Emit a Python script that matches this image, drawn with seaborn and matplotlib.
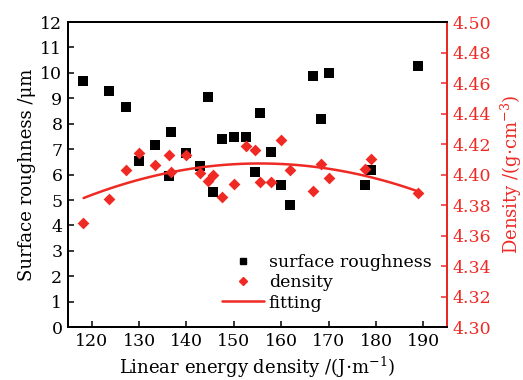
import numpy as np
import pandas as pd
import seaborn as sns
import matplotlib.pyplot as plt
from matplotlib.lines import Line2D

# values
energy = [118.1, 123.7, 127.3, 129.9, 133.3, 136.4, 136.8, 140.0, 142.8, 144.5,
          145.5, 147.4, 150.0, 152.5, 154.5, 155.5, 157.8, 159.9, 161.9, 166.6,
          168.4, 170.0, 177.7, 179.0, 188.9]
roughness = [9.69, 9.30, 8.64, 6.52, 7.18, 5.93, 7.68, 6.86, 6.34, 9.06,
             5.31, 7.39, 7.49, 7.49, 6.09, 8.43, 6.90, 5.59, 4.79, 9.89,
             8.20, 10.01, 5.59, 6.17, 10.29]
density = [4.368, 4.384, 4.403, 4.414, 4.406, 4.413, 4.402, 4.413, 4.401, 4.396,
           4.400, 4.385, 4.394, 4.419, 4.416, 4.395, 4.395, 4.423, 4.403, 4.389,
           4.407, 4.398, 4.404, 4.410, 4.388]
# points
fit_x = [118.3, 137.1, 142.8, 154.4, 168.2, 178.7, 188.6]
fit_y = [4.3848, 4.4014, 4.4051, 4.4067, 4.4041, 4.4003, 4.3883]

red = '#ef2a24'

sns.set_style('ticks', {'axes.edgecolor': 'black', 'text.color': 'black',
                        'axes.labelcolor': 'black', 'xtick.color': 'black',
                        'ytick.color': 'black'})
plt.rcParams['font.family'] = ['DejaVu Serif']
plt.rcParams['mathtext.fontset'] = 'dejavuserif'
plt.rcParams['mathtext.default'] = 'regular'

df = pd.DataFrame({'energy': energy, 'roughness': roughness, 'density': density})
coef = np.polyfit(fit_x, fit_y, 2)
xs = np.linspace(min(fit_x), max(fit_x), 100)
fit_df = pd.DataFrame({'energy': xs, 'density': np.polyval(coef, xs)})

fig = plt.figure(figsize=(5.23, 3.80), dpi=100)
ax = fig.add_axes([0.130, 0.139, 0.725, 0.803])
ax2 = ax.twinx()

sns.scatterplot(data=df, x='energy', y='roughness', ax=ax, marker='s', color='black',
                s=42, linewidth=0)
sns.scatterplot(data=df, x='energy', y='density', ax=ax2, marker='D', color=red,
                s=36, linewidth=0)
sns.lineplot(data=fit_df, x='energy', y='density', ax=ax2, color=red, linewidth=1.8)

ax.set_xlim(115, 195)
ax.set_ylim(0, 12)
ax.set_xticks(range(120, 191, 10))
ax.set_yticks(range(0, 13))
ax2.set_ylim(4.30, 4.50)
ax2.set_yticks(np.arange(4.30, 4.501, 0.02))
ax2.set_yticklabels(['%.2f' % v for v in np.arange(4.30, 4.501, 0.02)])

fs = 12.5
ax.set_xlabel('Linear energy density /(J$\\cdot$m$^{-1}$)', fontsize=13, labelpad=4)
ax.set_ylabel('Surface roughness /μm', fontsize=13, labelpad=3)
ax2.set_ylabel('Density /(g$\\cdot$cm$^{-3}$)', fontsize=13, color=red, labelpad=5)

ax.tick_params(direction='in', length=4, width=1.1, labelsize=fs, pad=4, colors='black')
ax.tick_params(axis='y', right=False)
ax2.tick_params(direction='in', length=4, width=1.1, labelsize=fs, colors=red, pad=4)

for sp in ax.spines.values():
    sp.set_linewidth(1.4)
for sp in ax2.spines.values():
    sp.set_linewidth(1.4)
ax2.spines['right'].set_color(red)

handles = [Line2D([], [], marker='s', color='black', linestyle='none', markersize=5),
           Line2D([], [], marker='D', color=red, linestyle='none', markersize=4.5),
           Line2D([], [], color=red, linewidth=1.8)]
ax2.legend(handles, ['surface roughness', 'density', 'fitting'], loc='lower right',
           frameon=False, fontsize=12.5, handlelength=2.4, handletextpad=0.3,
           labelspacing=0.2, borderaxespad=0.9, borderpad=0)

fig.savefig('out.png', dpi=100)
